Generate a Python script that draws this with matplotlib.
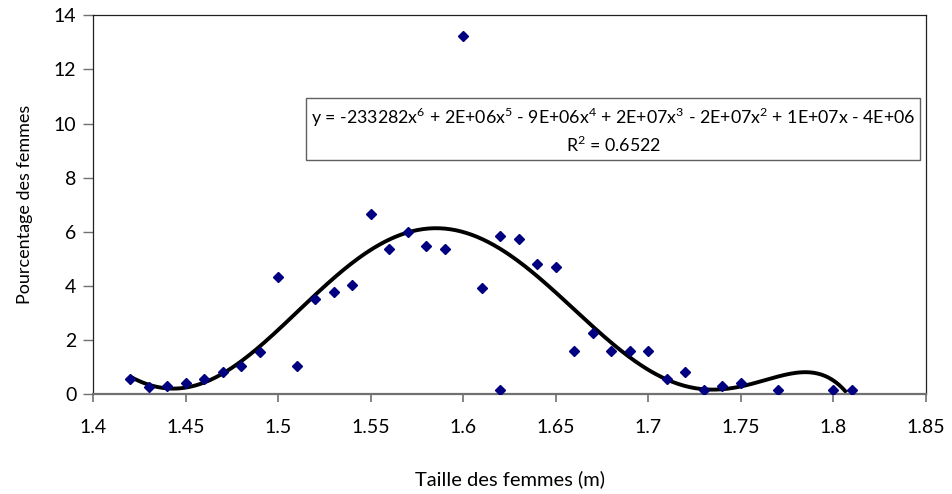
import matplotlib
matplotlib.use("Agg")
import matplotlib.pyplot as plt
import numpy as np
from matplotlib.ticker import FixedLocator, FuncFormatter

# height (m) vs share of women (%)
taille = [1.42, 1.43, 1.44, 1.45, 1.46, 1.47, 1.48, 1.49, 1.50, 1.51,
          1.52, 1.53, 1.54, 1.55, 1.56, 1.57, 1.58, 1.59, 1.60, 1.61,
          1.62, 1.62, 1.63, 1.64, 1.65, 1.66, 1.67, 1.68, 1.69, 1.70,
          1.71, 1.72, 1.73, 1.74, 1.75, 1.77, 1.80, 1.81]
pourcentage = [0.54, 0.26, 0.30, 0.42, 0.55, 0.80, 1.05, 1.56, 4.31, 1.05,
               3.52, 3.78, 4.04, 6.64, 5.35, 6.00, 5.48, 5.35, 13.25, 3.92,
               5.86, 0.15, 5.73, 4.81, 4.69, 1.58, 2.24, 1.58, 1.58, 1.58,
               0.54, 0.80, 0.15, 0.28, 0.42, 0.15, 0.15, 0.15]

equation = ("y = -233282x$^{6}$ + 2E+06x$^{5}$ - 9E+06x$^{4}$ + 2E+07x$^{3}$"
            " - 2E+07x$^{2}$ + 1E+07x - 4E+06\nR$^{2}$ = 0.6522")

x_ticks = [1.4, 1.45, 1.5, 1.55, 1.6, 1.65, 1.7, 1.75, 1.8, 1.85]
y_ticks = [0, 2, 4, 6, 8, 10, 12, 14]

plt.rcParams['font.family'] = ['Lato', 'DejaVu Sans']
plt.rcParams['mathtext.fontset'] = 'custom'
plt.rcParams['mathtext.rm'] = 'Lato'

fig = plt.figure(figsize=(9.52, 4.94), dpi=100)
ax = fig.add_axes([0.0977, 0.2024, 0.875, 0.7666])

x = np.array(taille)
y = np.array(pourcentage)

# 6th degree polynomial trend line over the data range
fit = np.polynomial.Polynomial.fit(x, y, 6)
xs = np.linspace(x.min(), x.max(), 400)
ys = fit(xs)
keep = ys >= 0
ax.plot(xs[keep], ys[keep], color='black', lw=2.8, zorder=2, solid_capstyle='butt')

ax.plot(x, y, linestyle='none', marker='D', markersize=5, color='#000080', zorder=3)

ax.set_xlim(1.4, 1.85)
ax.set_ylim(0, 14)
ax.xaxis.set_major_locator(FixedLocator(x_ticks))
ax.yaxis.set_major_locator(FixedLocator(y_ticks))
ax.xaxis.set_major_formatter(FuncFormatter(lambda v, p: ('%.2f' % v).rstrip('0')))
ax.yaxis.set_major_formatter(FuncFormatter(lambda v, p: '%d' % v))

for side in ('left', 'top', 'right'):
    ax.spines[side].set_color('#202020')
    ax.spines[side].set_linewidth(0.9)
ax.spines['bottom'].set_color('#707070')
ax.spines['bottom'].set_linewidth(1.6)
ax.tick_params(direction='out', color='#707070', labelsize=14)
ax.tick_params(axis='y', length=7, width=1, pad=5)
ax.tick_params(axis='x', length=6, width=1.2, pad=12)

ax.set_xlabel('Taille des femmes (m)', fontsize=14.5, labelpad=25)
ax.set_ylabel('Pourcentage des femmes', fontsize=13, labelpad=15)

ax.text(1.681, 9.76, equation, ha='center', va='center', fontsize=12.8,
        linespacing=1.35,
        bbox=dict(boxstyle='square,pad=0.28', facecolor='white', edgecolor='#606060', lw=1.0))

fig.savefig('out.png', dpi=100)
